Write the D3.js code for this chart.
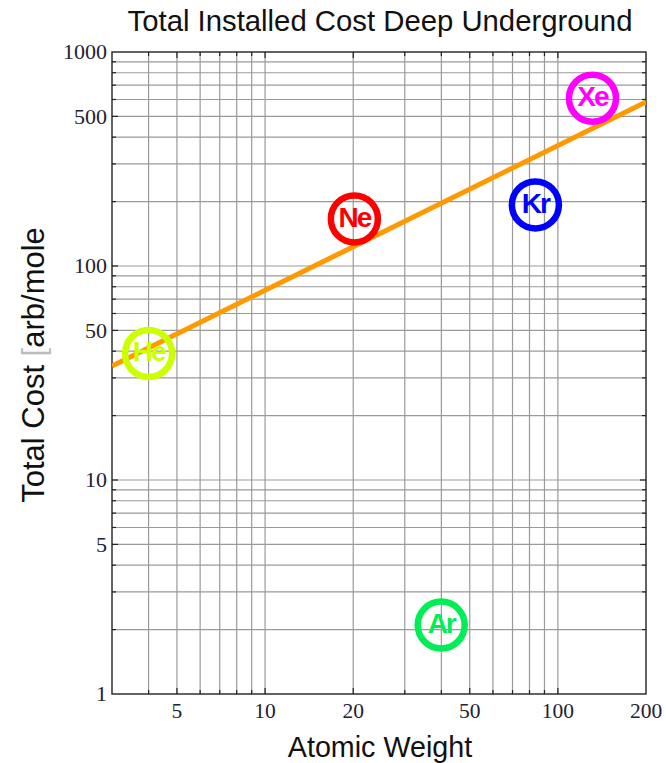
<!DOCTYPE html>
<html><head><meta charset="utf-8">
<script src="https://cdn.jsdelivr.net/npm/d3@7"></script>
<style>html,body{margin:0;padding:0;background:#fff;}</style>
</head><body>
<svg id="c" width="666" height="763"></svg>
<script>
// ---- data ----
const elements = ["He", "Ne", "Ar", "Kr", "Xe"];
const atomicWeights = [4.0, 20.18, 39.95, 83.8, 131.3];
const totalCosts = [39, 166, 2.1, 193, 608];
const elementColors = ["#ccff00", "#ff0000", "#00ee55", "#0000ff", "#ff00ff"];
const fitWeights = [3, 200];
const fitCosts = [34.1, 584];
const xTickLabels = [5, 10, 20, 50, 100, 200];
const yTickLabels = [1, 5, 10, 50, 100, 500, 1000];
const xDomain = [3, 200];
const yDomain = [1, 1000];

// ---- layout ----
const L = 112, R = 646, T = 52, B = 694;
const svg = d3.select("#c");
const x = d3.scaleLog().domain(xDomain).range([L, R]);
const y = d3.scaleLog().domain(yDomain).range([B, T]);

// grid
const xGrid = x.ticks().filter(v => v > xDomain[0] * 1.0001 && v < xDomain[1] * 0.9999);
const yGrid = y.ticks().filter(v => v > yDomain[0] * 1.0001 && v < yDomain[1] * 0.9999);
const g = svg.append("g");
g.selectAll(".vx").data(xGrid).join("line")
  .attr("x1", d => x(d)).attr("x2", d => x(d)).attr("y1", T).attr("y2", B)
  .attr("stroke", "#9a9a9a").attr("stroke-width", 1.2);
g.selectAll(".hy").data(yGrid).join("line")
  .attr("y1", d => y(d)).attr("y2", d => y(d)).attr("x1", L).attr("x2", R)
  .attr("stroke", "#9a9a9a").attr("stroke-width", 1.2);

// ticks on frame (inside)
const isMajorX = d => xTickLabels.includes(+d.toPrecision(6));
const isMajorY = d => yTickLabels.includes(+d.toPrecision(6));
const tk = svg.append("g").attr("stroke", "#222").attr("stroke-width", 1.2);
xGrid.forEach(d => {
  const len = isMajorX(d) ? 6 : 4;
  tk.append("line").attr("x1", x(d)).attr("x2", x(d)).attr("y1", B).attr("y2", B - len);
  tk.append("line").attr("x1", x(d)).attr("x2", x(d)).attr("y1", T).attr("y2", T + len);
});
yGrid.forEach(d => {
  const len = isMajorY(d) ? 6 : 4;
  tk.append("line").attr("y1", y(d)).attr("y2", y(d)).attr("x1", L).attr("x2", L + len);
  tk.append("line").attr("y1", y(d)).attr("y2", y(d)).attr("x1", R).attr("x2", R - len);
});

// frame
svg.append("rect").attr("x", L).attr("y", T).attr("width", R - L).attr("height", B - T)
  .attr("fill", "none").attr("stroke", "#222").attr("stroke-width", 1.4);

// tick labels
const tf = "'Liberation Serif', 'Times New Roman', serif";
svg.append("g").selectAll("text").data(xTickLabels).join("text")
  .attr("x", d => x(d)).attr("y", 718).attr("text-anchor", "middle")
  .attr("font-family", tf).attr("font-size", 21.5).attr("fill", "#222233").text(d => d);
svg.append("g").selectAll("text").data(yTickLabels).join("text")
  .attr("x", 107).attr("y", d => y(d)).attr("dy", "0.33em").attr("text-anchor", "end")
  .attr("font-family", tf).attr("font-size", 22).attr("fill", "#222233").text(d => d);

const defs = svg.append("defs");
defs.append("clipPath").attr("id", "clip").append("rect")
  .attr("x", L).attr("y", T).attr("width", R - L).attr("height", B - T);

// fit line
const fit = fitWeights.map((w, i) => [w, fitCosts[i]]);
svg.append("path").datum(fit).attr("clip-path", "url(#clip)")
  .attr("d", d3.line().x(d => x(d[0])).y(d => y(d[1])))
  .attr("fill", "none").attr("stroke", "#ff9900").attr("stroke-width", 5);

// points (drawn over the line)
const pts = svg.append("g");
elements.forEach((e, i) => {
  const cx = x(atomicWeights[i]), cy = y(totalCosts[i]);
  pts.append("circle").attr("cx", cx).attr("cy", cy).attr("r", 23.5)
    .attr("fill", "none").attr("stroke", elementColors[i]).attr("stroke-width", 6.5);
  pts.append("text").attr("x", cx).attr("y", cy).attr("dy", "0.28em")
    .attr("text-anchor", "middle").attr("font-family", "'Liberation Sans', Arial, sans-serif")
    .attr("font-weight", "bold").attr("font-size", 28).attr("letter-spacing", -2)
    .attr("fill", elementColors[i]).text(e);
});

// titles
const sf = "'Liberation Sans', Arial, sans-serif";
svg.append("text").attr("x", 380).attr("y", 31).attr("text-anchor", "middle")
  .attr("font-family", sf).attr("font-size", 29.3).attr("fill", "#111")
  .text("Total Installed Cost Deep Underground");
svg.append("text").attr("x", 380).attr("y", 757).attr("text-anchor", "middle")
  .attr("font-family", sf).attr("font-size", 28.7).attr("fill", "#111")
  .text("Atomic Weight");
const yl = svg.append("text").attr("transform", "translate(44,365) rotate(-90)")
  .attr("text-anchor", "middle").attr("font-family", sf).attr("font-size", 31).attr("fill", "#111");
yl.append("tspan").text("Total Cost ");
yl.append("tspan").attr("fill", "#bbb").attr("font-weight", "200").text("[");
yl.append("tspan").text("arb/mole");
</script>
</body></html>
